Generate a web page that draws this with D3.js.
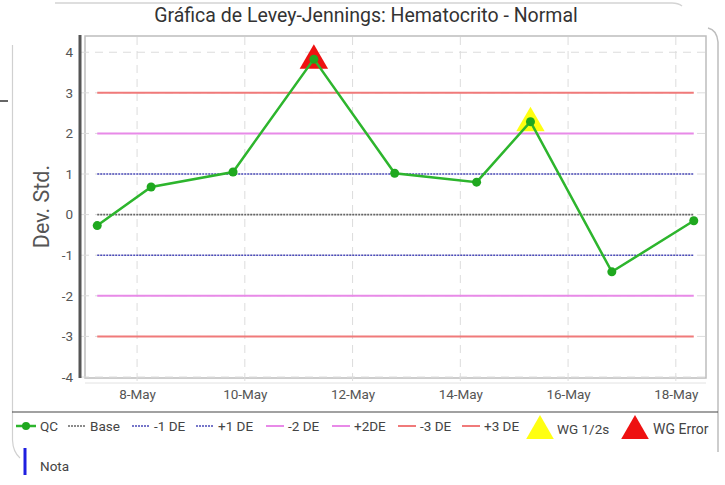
<!DOCTYPE html>
<html>
<head>
<meta charset="utf-8">
<script src="https://cdn.jsdelivr.net/npm/d3@7"></script>
<style>
  body { margin: 0; background: #fff; }
  svg { display: block; font-family: Roboto, "Noto Sans", sans-serif; }
</style>
</head>
<body>
<svg width="725" height="485"></svg>
<script>
// QC results (dates and standard deviations)
var qcDates = ["2023-05-07 06:15", "2023-05-08 06:15", "2023-05-09 18:45", "2023-05-11 06:45",
               "2023-05-12 18:45", "2023-05-14 07:15", "2023-05-15 07:15", "2023-05-16 19:30",
               "2023-05-18 08:00"];
var qcValues = [-0.27, 0.68, 1.05, 3.83, 1.02, 0.80, 2.29, -1.41, -0.15];
// Westgard flags per point: "" none, "warn" 1-2s, "error"
var qcFlags = ["", "", "", "error", "", "", "warn", "", ""];

var limitNames = ["Base", "-1 DE", "+1 DE", "-2 DE", "+2DE", "-3 DE", "+3 DE"];
var limitValues = [0, -1, 1, -2, 2, -3, 3];
var limitColors = ["#666666", "#4a4ab8", "#4a4ab8", "#e88ae8", "#e88ae8", "#f07a7a", "#f07a7a"];

var xTickDates = ["2023-05-08", "2023-05-10", "2023-05-12", "2023-05-14", "2023-05-16", "2023-05-18"];
var yTicks = [-4, -3, -2, -1, 0, 1, 2, 3, 4];

var parse = d3.timeParse("%Y-%m-%d %H:%M"),
    parseDay = d3.timeParse("%Y-%m-%d");

var points = qcDates.map(function (d, i) {
  return { date: parse(d), value: qcValues[i], flag: qcFlags[i] };
});

var svg = d3.select("svg");

var plotL = 85, plotR = 706, plotT = 36, plotB = 378;

var ext = d3.extent(points, function (d) { return d.date; });
var pad = (ext[1] - ext[0]) * 0.0205;
var x = d3.scaleTime()
    .domain([new Date(+ext[0] - pad), new Date(+ext[1] + pad)])
    .range([plotL, plotR]);
var y = d3.scaleLinear().domain([-4, 4.4]).range([plotB - 1, plotT]);

// card frame from the screenshot
var frame = svg.append("g").attr("fill", "none");
frame.append("path").attr("d", "M55,3 H672 Q678,3 682,6").attr("stroke", "#d4d4d4").attr("stroke-width", 1.5);
frame.append("path").attr("d", "M12.5,45 V440 Q13,452 20,458").attr("stroke", "#d0d0d0").attr("stroke-width", 1.2);
frame.append("path").attr("d", "M708,28 Q717,30 718,42 V452").attr("stroke", "#bdbdbd").attr("stroke-width", 1.5);
frame.append("line").attr("x1", 0).attr("x2", 8).attr("y1", 101).attr("y2", 101).attr("stroke", "#333").attr("stroke-width", 1.5);

// title
svg.append("text")
    .attr("x", 366).attr("y", 22)
    .attr("text-anchor", "middle")
    .attr("font-size", 19.5).attr("fill", "#333")
    .text("Gráfica de Levey-Jennings: Hematocrito - Normal");

// plot box
svg.append("rect")
    .attr("x", plotL).attr("y", plotT)
    .attr("width", plotR - plotL).attr("height", plotB - plotT)
    .attr("fill", "#fff").attr("stroke", "#bdbdbd").attr("stroke-width", 1.5);

// grid
var tickDates = xTickDates.map(parseDay);
svg.append("g").selectAll("line").data(tickDates).enter().append("line")
    .attr("x1", function (d) { return x(d); }).attr("x2", function (d) { return x(d); })
    .attr("y1", plotT + 1).attr("y2", plotB + 5)
    .attr("stroke", "#dcdcdc").attr("stroke-dasharray", "8,6");
svg.append("g").selectAll("line").data(yTicks).enter().append("line")
    .attr("x1", plotL - 4).attr("x2", plotR)
    .attr("y1", function (d) { return y(d); }).attr("y2", function (d) { return y(d); })
    .attr("stroke", "#dcdcdc").attr("stroke-dasharray", "8,6");

// x axis line below the box
svg.append("line").attr("x1", plotL).attr("x2", plotR).attr("y1", plotB + 5).attr("y2", plotB + 5)
    .attr("stroke", "#e2e2e2");

// x axis labels
var xAxis = d3.axisBottom(x).tickValues(tickDates).tickFormat(d3.timeFormat("%-d-%b")).tickSize(0).tickPadding(10);
var gx = svg.append("g").attr("transform", "translate(0," + (plotB + 1) + ")").call(xAxis);
gx.select(".domain").remove();
gx.selectAll("text").attr("font-size", 13.5).attr("fill", "#555").attr("font-family", "Roboto");

// y axis
var yAxis = d3.axisLeft(y).tickValues(yTicks).tickFormat(function (d) { return String(d); }).tickSize(0).tickPadding(12);
var gy = svg.append("g").attr("transform", "translate(" + plotL + ",0)").call(yAxis);
gy.select(".domain").remove();
gy.selectAll("text").attr("font-size", 13.5).attr("fill", "#555").attr("font-family", "Roboto");
svg.append("line").attr("x1", 80).attr("x2", 80).attr("y1", plotT - 1).attr("y2", plotB)
    .attr("stroke", "#555").attr("stroke-width", 3);

svg.append("text")
    .attr("transform", "translate(49," + y(0.2) + ") rotate(-90)")
    .attr("text-anchor", "middle")
    .attr("font-size", 21.5).attr("fill", "#555")
    .text("Dev. Std.");

// control limits, spanning the QC dates
svg.append("g").selectAll("line").data(limitValues).enter().append("line")
    .attr("x1", x(ext[0])).attr("x2", x(ext[1]))
    .attr("y1", function (d) { return y(d); }).attr("y2", function (d) { return y(d); })
    .attr("stroke", function (d, i) { return limitColors[i]; })
    .attr("stroke-width", function (d) { return Math.abs(d) >= 2 ? 2 : 1.6; })
    .attr("stroke-dasharray", function (d) { return Math.abs(d) >= 2 ? null : "2,1"; });

// Westgard triangles
var tri = d3.symbol().type(d3.symbolTriangle).size(350);
svg.append("g").selectAll("path").data(points.filter(function (d) { return d.flag; })).enter().append("path")
    .attr("d", tri)
    .attr("transform", function (d) { return "translate(" + x(d.date) + "," + (y(d.value) + 1.5) + ")"; })
    .attr("fill", function (d) { return d.flag === "error" ? "#ee1111" : "#ffff11"; });

// QC line
var line = d3.line().x(function (d) { return x(d.date); }).y(function (d) { return y(d.value); });
svg.append("path").datum(points)
    .attr("d", line).attr("fill", "none")
    .attr("stroke", "#2db52d").attr("stroke-width", 2.5);
svg.append("g").selectAll("circle").data(points).enter().append("circle")
    .attr("cx", function (d) { return x(d.date); })
    .attr("cy", function (d) { return y(d.value); })
    .attr("r", 4.5).attr("fill", "#1fa81f");

// legend
svg.append("line").attr("x1", 12).attr("x2", 718).attr("y1", 412).attr("y2", 412)
    .attr("stroke", "#444").attr("stroke-width", 1.2);

var lg = svg.append("g").attr("font-size", 13.5).attr("fill", "#444");
var ly = 426;
lg.append("line").attr("x1", 16).attr("x2", 36).attr("y1", ly).attr("y2", ly).attr("stroke", "#2db52d").attr("stroke-width", 2.5);
lg.append("circle").attr("cx", 26).attr("cy", ly).attr("r", 4).attr("fill", "#1fa81f");
lg.append("text").attr("x", 40).attr("y", ly + 5).text("QC");

var legendX = [68, 132, 196, 266, 332, 398, 462];
limitNames.forEach(function (name, i) {
  var v = limitValues[i];
  lg.append("line").attr("x1", legendX[i]).attr("x2", legendX[i] + 18).attr("y1", ly).attr("y2", ly)
      .attr("stroke", limitColors[i])
      .attr("stroke-width", Math.abs(v) >= 2 ? 2 : 1.5)
      .attr("stroke-dasharray", Math.abs(v) >= 2 ? null : "2,1");
  lg.append("text").attr("x", legendX[i] + 22).attr("y", ly + 5).text(name);
});

var bigTri = d3.symbol().type(d3.symbolTriangle).size(330);
lg.append("path").attr("d", bigTri).attr("transform", "translate(540,431)").attr("fill", "#ffff11");
lg.append("text").attr("x", 557).attr("y", ly + 8).text("WG 1/2s");
lg.append("path").attr("d", bigTri).attr("transform", "translate(635,431)").attr("fill", "#ee1111");
lg.append("text").attr("x", 653).attr("y", ly + 8).attr("font-size", 14).text("WG Error");

lg.append("line").attr("x1", 25).attr("x2", 25).attr("y1", 448).attr("y2", 475)
    .attr("stroke", "#1f1fe0").attr("stroke-width", 3);
lg.append("text").attr("x", 40).attr("y", 471).text("Nota");
</script>
</body>
</html>
